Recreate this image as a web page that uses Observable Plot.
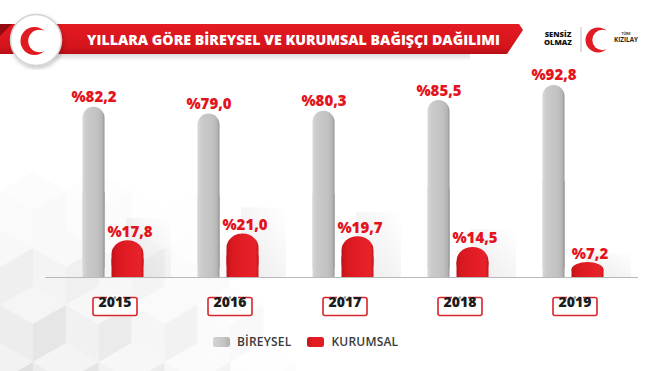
<!DOCTYPE html>
<html>
<head>
<meta charset="utf-8">
<script src="https://cdn.jsdelivr.net/npm/d3@7"></script>
<script src="https://cdn.jsdelivr.net/npm/@observablehq/plot@0.6"></script>
<style>
  html, body { margin: 0; padding: 0; background: #ffffff; }
  #wrap { position: relative; width: 660px; height: 371px; overflow: hidden; background: #ffffff; font-family: "Open Sans", sans-serif; }
  #bg, #banner, #chart, #legend { position: absolute; left: 0; }
  #bg { top: 0; }
  #banner { top: 0; }
  #chart { top: 60px; }
  #legend { top: 333px; left: 213px; display: flex; align-items: center; font-size: 12px; font-weight: 600; color: #3a3a3a; letter-spacing: 0.2px; }
  .sw { width: 17px; height: 10px; border-radius: 2.5px; margin-right: 7px; }
  .item { display: flex; align-items: center; margin-right: 16px; }
</style>
</head>
<body>
<div id="wrap">
  <svg id="bg" width="660" height="371"></svg>
  <svg id="banner" width="660" height="70">
    <defs>
      <linearGradient id="gGrey" x1="0" x2="1" y1="0" y2="0">
        <stop offset="0" stop-color="#d8d8d8"/>
        <stop offset="0.18" stop-color="#cbcbcb"/>
        <stop offset="0.7" stop-color="#c1c1c1"/>
        <stop offset="0.9" stop-color="#b4b4b4"/>
        <stop offset="1" stop-color="#929292"/>
      </linearGradient>
      <linearGradient id="gRed" x1="0" x2="1" y1="0" y2="0">
        <stop offset="0" stop-color="#bd121a"/>
        <stop offset="0.15" stop-color="#d8181f"/>
        <stop offset="0.55" stop-color="#e41d25"/>
        <stop offset="0.9" stop-color="#e6222a"/>
        <stop offset="1" stop-color="#c9151c"/>
      </linearGradient>
      <linearGradient id="gBanner" x1="0" x2="0" y1="0" y2="1">
        <stop offset="0" stop-color="#e51a22"/>
        <stop offset="0.75" stop-color="#d5141c"/>
        <stop offset="1" stop-color="#b70f17"/>
      </linearGradient>
      <linearGradient id="gShadow" x1="0" x2="0" y1="0" y2="1">
        <stop offset="0" stop-color="#000" stop-opacity="0.14"/>
        <stop offset="1" stop-color="#000" stop-opacity="0"/>
      </linearGradient>
      <linearGradient id="gCast" x1="0" x2="1" y1="1" y2="0">
        <stop offset="0" stop-color="#000" stop-opacity="0.10"/>
        <stop offset="1" stop-color="#000" stop-opacity="0"/>
      </linearGradient>
      <filter id="fShadow" x="-30%" y="-30%" width="160%" height="160%">
        <feDropShadow dx="1" dy="2" stdDeviation="2" flood-color="#000" flood-opacity="0.25"/>
      </filter>
    </defs>
    <rect x="40" y="54" width="430" height="7" fill="url(#gShadow)"/>
    <polygon points="0,24 519,24 523,30 507,54 0,54" fill="url(#gBanner)"/>
    <polygon points="0,24 12,24 0,36" fill="#930b12"/>
    <circle cx="36" cy="40" r="25.5" fill="#ffffff" stroke="#d2d2d2" stroke-width="1.5" filter="url(#fShadow)"/>
    <circle cx="34.5" cy="41" r="14" fill="#e11b22"/>
    <circle cx="39.5" cy="41" r="11.3" fill="#ffffff"/>
    <text x="87" y="45" fill="#ffffff" font-family="'Open Sans', sans-serif" font-weight="800" font-size="14" textLength="413" lengthAdjust="spacingAndGlyphs">YILLARA GÖRE BİREYSEL VE KURUMSAL BAĞIŞÇI DAĞILIMI</text>
    <text x="558" y="36.5" text-anchor="middle" fill="#111" font-family="'Open Sans', sans-serif" font-weight="800" font-size="7.6">SENSİZ</text>
    <text x="558" y="45" text-anchor="middle" fill="#111" font-family="'Open Sans', sans-serif" font-weight="800" font-size="7.6">OLMAZ</text>
    <line x1="581" x2="581" y1="27" y2="52" stroke="#bdbdbd" stroke-width="1"/>
    <circle cx="598" cy="40" r="12.5" fill="#e11b22"/>
    <circle cx="602.5" cy="40" r="10.2" fill="#ffffff"/>
    <text x="626" y="35" text-anchor="middle" fill="#333" font-family="'Open Sans', sans-serif" font-weight="700" font-size="3.4">TÜRK</text>
    <text x="626" y="41.5" text-anchor="middle" fill="#222" font-family="'Open Sans', sans-serif" font-weight="700" font-size="6.3">KIZILAY</text>
  </svg>
  <div id="chart"></div>
  <div id="legend"></div>
</div>
<script>
// ---- data ----
const years = ["2015", "2016", "2017", "2018", "2019"];
const bireysel = [82.2, 79.0, 80.3, 85.5, 92.8];
const kurumsal = [17.8, 21.0, 19.7, 14.5, 7.2];
const seriesNames = ["BİREYSEL", "KURUMSAL"];
const seriesFills = ["url(#gGrey)", "url(#gRed)"];

const greyRows = years.map((year, i) => ({year, value: bireysel[i]}));
const redRows = years.map((year, i) => ({year, value: kurumsal[i]}));
const fmt = v => "%" + v.toFixed(1).replace(".", ",");
const labelRed = "#e3141c";

// ---- decorative background (isometric cubes, lower left) ----
(function () {
  const svg = d3.select("#bg");
  const s = 38, w = s * Math.sqrt(3) / 2;
  const g = svg.append("g");
  for (let row = 0; row < 10; row++) {
    for (let col = -1; col < 8; col++) {
      const cx = col * 2 * w + (row % 2 ? w : 0);
      const cy = 371 - row * 1.5 * s + 10;
      const dist = Math.hypot((cx - 10) * 0.9, (cy - 371) * 1.25);
      const a = Math.max(0, 1 - dist / 250);
      if (a <= 0.02) continue;
      const T = [cx, cy - s], UR = [cx + w, cy - s / 2], LR = [cx + w, cy + s / 2],
            B = [cx, cy + s], LL = [cx - w, cy + s / 2], UL = [cx - w, cy - s / 2], C = [cx, cy];
      const faces = [
        [[T, UR, C, UL], "#efefef"],
        [[UL, C, B, LL], "#e3e3e3"],
        [[C, UR, LR, B], "#d8d8d8"]
      ];
      for (const [pts, fill] of faces) {
        g.append("polygon").attr("points", pts.map(p => p.join(",")).join(" "))
          .attr("fill", fill).attr("opacity", a * 0.85);
      }
    }
  }
})();

// ---- year box symbol ----
const boxSymbol = {
  draw(ctx) {
    const w = 22, h = 9, r = 2;
    ctx.moveTo(-w + r, -h);
    ctx.lineTo(w - r, -h); ctx.arcTo(w, -h, w, -h + r, r);
    ctx.lineTo(w, h - r); ctx.arcTo(w, h, w - r, h, r);
    ctx.lineTo(-w + r, h); ctx.arcTo(-w, h, -w, h - r, r);
    ctx.lineTo(-w, -h + r); ctx.arcTo(-w, -h, -w + r, -h, r);
    ctx.closePath();
  }
};
const gapSymbol = { draw(ctx) { ctx.rect(-8, -2, 16, 4); } };

const yearDy = 29, yearDx = 1;

const chart = Plot.plot({
  width: 660,
  height: 265,
  marginTop: 10,
  marginBottom: 48,
  marginLeft: 55.5,
  marginRight: 29.5,
  x: {domain: years, padding: 0, axis: null},
  y: {domain: [0, 100], axis: null},
  style: {background: "transparent", fontFamily: "'Open Sans', sans-serif", overflow: "visible"},
  marks: [
    Plot.ruleY([0], {stroke: "#b9b9b9", strokeWidth: 1, insetLeft: -10.5, insetRight: -7.5}),
    // soft cast shadows to the right of the red bars
    Plot.barY(redRows, {x: "year", y: d => d.value * 1.6, insetLeft: 70, insetRight: 0, fill: "url(#gCast)", fillOpacity: 0.8}),
    // grey bars (rounded top)
    Plot.barY(greyRows, {x: "year", y: "value", insetLeft: 26.5, insetRight: 66.5, rx: 11, ry: 11, fill: seriesFills[0]}),
    Plot.barY(greyRows, {x: "year", y: d => d.value / 2, insetLeft: 26.5, insetRight: 66.5, fill: seriesFills[0]}),
    // red bars (rounded top)
    Plot.barY(redRows, {x: "year", y: "value", insetLeft: 55.5, insetRight: 27.5, rx: 16, ry: 14, fill: seriesFills[1]}),
    Plot.barY(redRows, {x: "year", y: d => d.value / 2, insetLeft: 55.5, insetRight: 27.5, fill: seriesFills[1]}),
    // value labels
    Plot.text(greyRows, {x: "year", y: "value", text: d => fmt(d.value), dx: -20, dy: -5, lineAnchor: "bottom", fill: labelRed, fontSize: 15, fontWeight: 800}),
    Plot.text(redRows, {x: "year", y: "value", text: d => fmt(d.value), dx: 16, dy: -4, lineAnchor: "bottom", fill: labelRed, fontSize: 15, fontWeight: 800}),
    // year boxes
    Plot.dot(years, {x: d => d, frameAnchor: "bottom", dy: yearDy, dx: yearDx, symbol: boxSymbol, r: 5, fill: "#ffffff", stroke: "#d8252c", strokeWidth: 1.6}),
    Plot.dot(years, {x: d => d, frameAnchor: "bottom", dy: yearDy - 9, dx: yearDx, symbol: gapSymbol, r: 5, fill: "#ffffff"}),
    ...[-4.5, 0, 4.5].map(o => Plot.dot(years, {x: d => d, frameAnchor: "bottom", dy: yearDy - 9, dx: yearDx + o, r: 1.3, fill: "#9a9a9a"})),
    Plot.text(years, {x: d => d, frameAnchor: "bottom", dy: yearDy + 0.5, dx: yearDx, text: d => d, fontSize: 14, fontWeight: 800, fill: "#1c1c1c"})
  ]
});
document.getElementById("chart").appendChild(chart);

// ---- legend ----
const legend = d3.select("#legend");
const swatchColors = ["linear-gradient(90deg,#d4d4d4,#c2c2c2 70%,#b0b0b0)", "linear-gradient(90deg,#c8141b,#e41d25 40%,#e41d25)"];
seriesNames.forEach((name, i) => {
  const item = legend.append("div").attr("class", "item");
  item.append("div").attr("class", "sw").style("background", swatchColors[i]);
  item.append("span").text(name);
});
</script>
</body>
</html>
